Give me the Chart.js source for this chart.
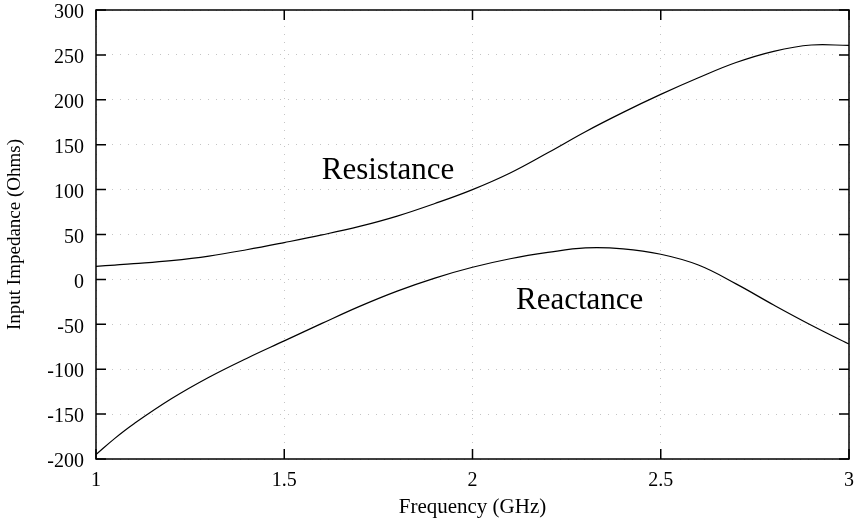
<!DOCTYPE html>
<html>
<head>
<meta charset="utf-8">
<script src="https://cdn.jsdelivr.net/npm/chart.js@4/dist/chart.umd.min.js"></script>
<style>
  html, body { margin: 0; padding: 0; background: #fff; }
  #wrap { width: 859px; height: 521px; }
</style>
</head>
<body>
<div id="wrap"><canvas id="c" width="859" height="521"></canvas></div>
<script>
// Frequency (GHz)
const freqs = [1.0, 1.05, 1.1, 1.2, 1.3, 1.4, 1.5, 1.6, 1.7, 1.8, 1.9, 2.0, 2.1, 2.2, 2.3, 2.4, 2.5, 2.6, 2.7, 2.8, 2.9, 3.0];
// Input impedance (Ohms)
const resistance = [14.6, 16, 17.5, 21, 26, 33, 41, 49.5, 59, 70.5, 84.5, 100, 118.5, 141, 164.5, 186, 206, 224.5, 241.5, 254, 261, 260.5];
const reactance = [-195, -177, -161, -133, -109, -88, -68.5, -49, -30, -13, 1.5, 13.5, 23, 30, 35, 34, 28, 16, -5, -28.5, -51, -72];

const xTickValues = [1, 1.5, 2, 2.5, 3];
const xTickLabels = ['1', '1.5', '2', '2.5', '3'];
const yTickValues = [-200, -150, -100, -50, 0, 50, 100, 150, 200, 250, 300];

const curveLabels = [
  { text: 'Resistance', x: 1.7756, y: 111.5 },
  { text: 'Reactance', x: 2.2847, y: -33 }
];

const SERIF = '"Liberation Serif", "DejaVu Serif", serif';

const toPoints = (xs, ys) => xs.map((x, i) => ({ x: x, y: ys[i] }));

const framePlugin = {
  id: 'frame',
  afterDraw(chart) {
    const ctx = chart.ctx;
    const a = chart.chartArea;
    const xs = chart.scales.x, ys = chart.scales.y;
    ctx.save();
    ctx.strokeStyle = '#000';
    ctx.lineWidth = 1.5;
    ctx.strokeRect(a.left, a.top, a.right - a.left, a.bottom - a.top);
    const tl = 10;
    ctx.beginPath();
    yTickValues.forEach(v => {
      const py = ys.getPixelForValue(v);
      ctx.moveTo(a.left, py); ctx.lineTo(a.left + tl, py);
      ctx.moveTo(a.right, py); ctx.lineTo(a.right - tl, py);
    });
    xTickValues.forEach(v => {
      const px = xs.getPixelForValue(v);
      ctx.moveTo(px, a.bottom); ctx.lineTo(px, a.bottom - tl);
      ctx.moveTo(px, a.top); ctx.lineTo(px, a.top + tl);
    });
    ctx.stroke();
    ctx.fillStyle = '#000';
    ctx.font = '31px ' + SERIF;
    ctx.textAlign = 'center';
    ctx.textBaseline = 'alphabetic';
    curveLabels.forEach(l => {
      ctx.fillText(l.text, xs.getPixelForValue(l.x), ys.getPixelForValue(l.y));
    });
    ctx.restore();
  }
};

new Chart(document.getElementById('c'), {
  type: 'line',
  data: {
    datasets: [
      { label: 'Resistance', data: toPoints(freqs, resistance), borderColor: '#000', borderWidth: 1.2, pointRadius: 0, tension: 0.4, fill: false },
      { label: 'Reactance', data: toPoints(freqs, reactance), borderColor: '#000', borderWidth: 1.2, pointRadius: 0, tension: 0.4, fill: false }
    ]
  },
  options: {
    responsive: false,
    animation: false,
    devicePixelRatio: 1,
    layout: { padding: { left: 0, right: 10, top: 10, bottom: 0 } },
    plugins: { legend: { display: false }, tooltip: { enabled: false } },
    scales: {
      x: {
        type: 'linear', min: 1, max: 3,
        afterBuildTicks: s => { s.ticks = xTickValues.map(v => ({ value: v })); },
        afterFit: s => { s.height = 62; s.paddingLeft = 0; s.paddingRight = 0; },
        ticks: {
          color: '#000', font: { family: SERIF, size: 20 }, padding: 10,
          maxRotation: 0, autoSkip: false,
          callback: (v) => { const i = xTickValues.indexOf(v); return i >= 0 ? xTickLabels[i] : ''; }
        },
        grid: { color: '#c4c4c4', lineWidth: 1, drawTicks: false },
        border: { display: false, dash: [1, 7] },
        title: { display: true, text: 'Frequency (GHz)', color: '#000', font: { family: SERIF, size: 21 }, padding: { top: 0, bottom: 1 } }
      },
      y: {
        type: 'linear', min: -200, max: 300,
        afterBuildTicks: s => { s.ticks = yTickValues.map(v => ({ value: v })); },
        afterFit: s => { s.width = 96; s.paddingTop = 0; s.paddingBottom = 0; },
        ticks: { color: '#000', font: { family: SERIF, size: 20 }, padding: 12, labelOffset: 3, autoSkip: false },
        grid: { color: '#c4c4c4', lineWidth: 1, drawTicks: false },
        border: { display: false, dash: [1, 7] },
        title: { display: true, text: 'Input Impedance (Ohms)', color: '#000', font: { family: SERIF, size: 19 }, padding: { top: 4, bottom: 0 } }
      }
    }
  },
  plugins: [framePlugin]
});
</script>
</body>
</html>
